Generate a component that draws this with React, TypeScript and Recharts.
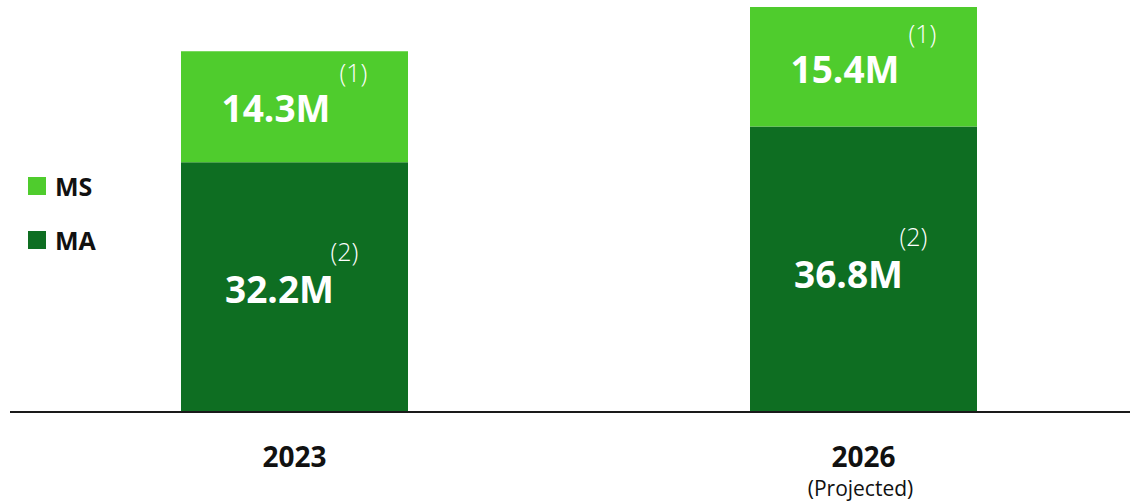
import React from 'react';
import { BarChart, Bar, XAxis, YAxis, LabelList } from 'recharts';

const categories = ['2023', '2026'];
const subLabels = ['', '(Projected)'];
const maValues = [32.2, 36.8];
const msValues = [14.3, 15.4];
const maNotes = ['(2)', '(2)'];
const msNotes = ['(1)', '(1)'];
const seriesNames = { ms: 'MS', ma: 'MA' };

const LIGHT = '#4fcc2d';
const DARK = '#0e6e22';
const FONT = '"Open Sans", "Noto Sans", sans-serif';

const data = categories.map((c, i) => ({
  year: c,
  sub: subLabels[i],
  ma: maValues[i],
  ms: msValues[i],
}));

const fmt = (v: number) => `${v.toFixed(1)}M`;

const makeLabel = (notes: string[], fy: number, dxMain: number, dxSup: number, dySup: number) =>
  (props: any) => {
    const { x, y, width, height, value, index } = props;
    const cx = Number(x) + Number(width) / 2;
    const by = Number(y) + Number(height) * fy;
    return (
      <g>
        <text x={cx + dxMain} y={by} textAnchor="middle" fill="#fff" fontFamily={FONT} fontWeight={700} fontSize={37}>
          {fmt(Number(value))}
        </text>
        <text x={cx + dxSup} y={by + dySup} textAnchor="start" fill="#fff" fontFamily={FONT} fontWeight={300} fontSize={25}>
          {notes[index]}
        </text>
      </g>
    );
  };

const Tick = (props: any) => {
  const { x, y, payload, index } = props;
  const sub = subLabels[index ?? categories.indexOf(payload.value)];
  return (
    <g>
      <text x={x} y={y + 47} textAnchor="middle" fill="#111" fontFamily={FONT} fontWeight={700} fontSize={28}>
        {payload.value}
      </text>
      {sub ? (
        <text x={x - 3} y={y + 76} textAnchor="middle" fill="#111" fontFamily={FONT} fontWeight={400} fontSize={21}>
          {sub}
        </text>
      ) : null}
    </g>
  );
};

const LegendBox = () => {
  const items = [
    { name: seriesNames.ms, color: LIGHT },
    { name: seriesNames.ma, color: DARK },
  ];
  return (
    <div style={{ position: 'absolute', left: 28, top: 177, fontFamily: FONT }}>
      {items.map((it) => (
        <div key={it.name} style={{ display: 'flex', alignItems: 'center', height: 18, marginBottom: 36 }}>
          <div style={{ width: 18, height: 18, background: it.color, marginRight: 9 }} />
          <span style={{ fontSize: 25, fontWeight: 700, color: '#111', lineHeight: '18px' }}>{it.name}</span>
        </div>
      ))}
    </div>
  );
};

export default function App() {
  return (
    <div style={{ position: 'absolute', left: 0, top: 0, width: 1130, height: 502, overflow: 'hidden', background: '#fff' }}>
      <BarChart width={1148} height={502} data={data} margin={{ top: 7, right: 0, left: 10, bottom: 0 }}>
        <XAxis
          dataKey="year"
          height={90}
          tickLine={false}
          axisLine={{ stroke: '#1a1a1a', strokeWidth: 2 }}
          tick={<Tick />}
          interval={0}
        />
        <YAxis hide domain={[0, 52.2]} />
        <Bar dataKey="ma" stackId="a" fill={DARK} barSize={227} isAnimationActive={false}>
          <LabelList dataKey="ma" content={makeLabel(maNotes, 0.565, -15, 36, -42)} />
        </Bar>
        <Bar dataKey="ms" stackId="a" fill={LIGHT} barSize={227} isAnimationActive={false}>
          <LabelList dataKey="ms" content={makeLabel(msNotes, 0.635, -18.5, 45, -40)} />
        </Bar>
      </BarChart>
      <LegendBox />
    </div>
  );
}
